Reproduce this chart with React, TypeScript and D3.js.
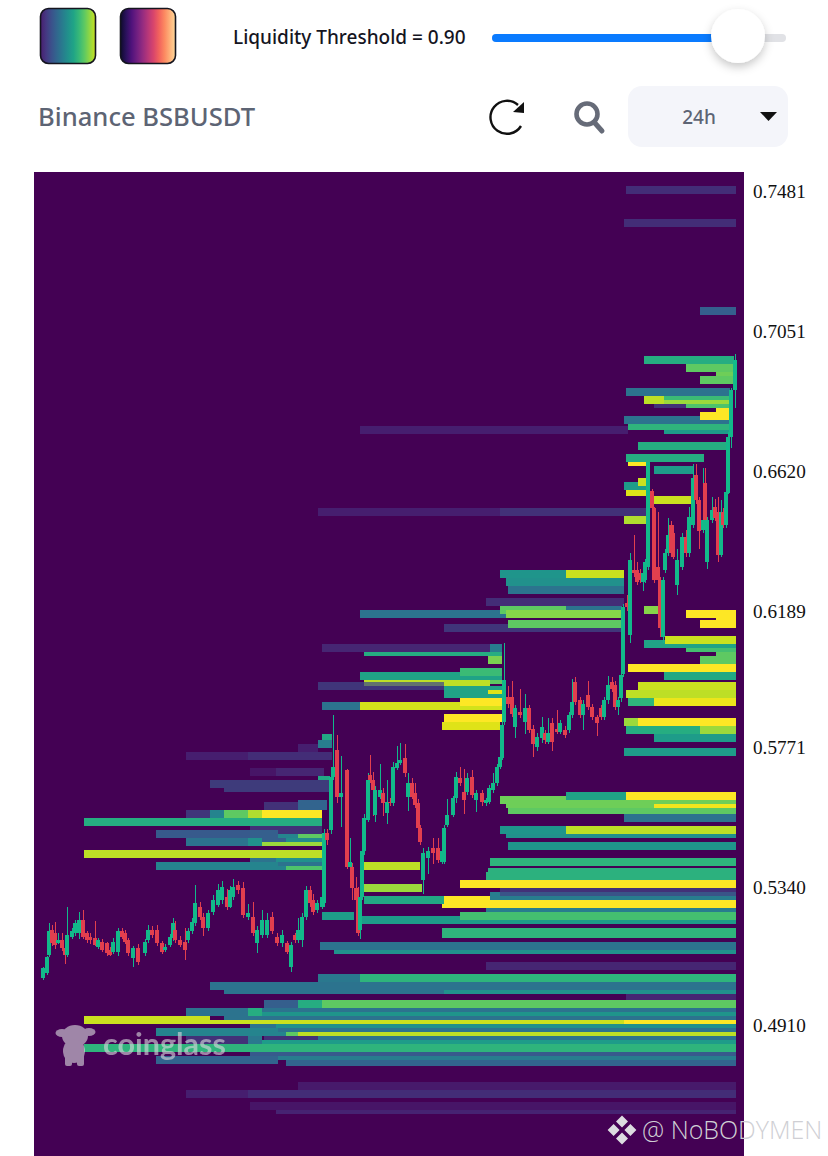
// App.tsx - liquidation heatmap, Binance BSBUSDT 24h
import * as d3 from 'd3';

// prices are in 1e-4 USDT, time in chart slots (about 2 min each)
const priceTicks = [7481, 7051, 6620, 6189, 5771, 5340, 4910, 4481];

type Bar = [number, number, number, number, number]; // t0, t1, price top, price bottom, level 0-1

const barsTop: Bar[] = [
  [592, 702, 7496, 7471, 0.18], [590, 702, 7395, 7371, 0.18], [666, 702, 7124, 7100, 0.3],
  [610, 700, 6974, 6949, 0.62], [652, 700, 6949, 6925, 0.75], [682, 700, 6925, 6912, 0.78], [666, 700, 6912, 6888, 0.75],
  [592, 696, 6875, 6851, 0.38], [610, 630, 6851, 6826, 0.9], [630, 696, 6851, 6838, 0.68], [630, 696, 6838, 6826, 0.85],
  [620, 652, 6826, 6814, 0.2], [652, 696, 6826, 6814, 0.72], [682, 696, 6814, 6802, 1],
  [590, 666, 6789, 6765, 0.38], [666, 696, 6777, 6765, 0.38], [666, 696, 6802, 6777, 1],
  [326, 594, 6759, 6734, 0.12], [594, 696, 6765, 6746, 0.65], [630, 696, 6746, 6734, 0.55],
  [604, 694, 6709, 6685, 0.62], [592, 670, 6672, 6648, 0.62], [594, 614, 6648, 6636, 1], [620, 660, 6636, 6611, 0.55],
  [590, 614, 6586, 6562, 0.55], [604, 614, 6599, 6574, 0.92], [592, 612, 6562, 6543, 0.95], [620, 658, 6543, 6519, 0.92],
  [284, 466, 6506, 6482, 0.12], [466, 612, 6506, 6482, 0.2], [590, 612, 6482, 6457, 0.88],
];

const barsUpperMid: Bar[] = [
  [466, 532, 6316, 6291, 0.52], [532, 590, 6316, 6291, 0.92], [472, 590, 6291, 6266, 0.5], [474, 590, 6266, 6241, 0.38],
  [452, 590, 6229, 6205, 0.18], [610, 624, 6205, 6180, 0.82], [326, 472, 6192, 6168, 0.38], [466, 532, 6205, 6180, 0.75],
  [532, 588, 6205, 6192, 0.38], [472, 588, 6192, 6168, 0.82], [410, 588, 6149, 6125, 0.22], [474, 588, 6161, 6137, 0.75],
  [652, 702, 6192, 6168, 1], [682, 702, 6168, 6161, 1], [666, 702, 6161, 6137, 1],
  [610, 702, 6100, 6075, 0.58], [631, 702, 6112, 6088, 0.92], [652, 702, 6075, 6063, 0.7], [682, 702, 6063, 6051, 0.75],
  [666, 702, 6051, 6026, 0.75], [594, 702, 6026, 6002, 1], [630, 702, 6002, 5977, 0.6],
  [604, 702, 5971, 5946, 0.92], [592, 702, 5946, 5922, 0.9], [594, 620, 5922, 5897, 0.65], [620, 702, 5922, 5897, 0.97],
  [590, 604, 5860, 5836, 0.85], [604, 702, 5860, 5836, 1], [592, 666, 5836, 5811, 0.62], [666, 702, 5836, 5811, 0.85],
  [620, 702, 5811, 5786, 0.55], [590, 702, 5768, 5743, 0.55],
];

const barsCentre: Bar[] = [
  [288, 456, 6088, 6064, 0.15], [456, 468, 6088, 6064, 0.42], [330, 468, 6064, 6051, 0.62], [454, 468, 6051, 6027, 0.8],
  [326, 468, 6002, 5978, 0.58], [426, 468, 6014, 5990, 0.68], [330, 456, 5978, 5959, 0.9], [456, 468, 5978, 5965, 0.75],
  [284, 410, 5971, 5947, 0.22], [410, 468, 5959, 5922, 0.58], [454, 468, 5947, 5934, 0.95],
  [288, 326, 5910, 5885, 0.38], [326, 468, 5910, 5885, 0.93], [426, 468, 5922, 5898, 1],
  [410, 468, 5873, 5848, 1], [408, 466, 5848, 5824, 0.95],
  [288, 298, 5811, 5787, 0.6], [284, 298, 5793, 5768, 0.42], [264, 284, 5781, 5756, 0.12],
  [152, 214, 5756, 5731, 0.12], [214, 298, 5756, 5731, 0.18],
  [216, 242, 5707, 5682, 0.08], [242, 290, 5707, 5682, 0.15], [284, 296, 5682, 5670, 0.6],
  [176, 296, 5670, 5645, 0.25], [190, 296, 5645, 5633, 0.25],
  [230, 264, 5602, 5578, 0.2], [264, 293, 5608, 5578, 0.32],
  [152, 176, 5578, 5553, 0.22], [176, 190, 5578, 5553, 0.45], [190, 214, 5578, 5553, 0.75], [214, 228, 5578, 5553, 0.88], [228, 288, 5578, 5553, 1],
  [50, 288, 5553, 5529, 0.62], [216, 288, 5529, 5504, 0.2],
  [122, 216, 5516, 5492, 0.28], [216, 244, 5516, 5492, 0.3], [244, 264, 5504, 5492, 0.45], [264, 288, 5504, 5492, 0.75],
  [152, 214, 5492, 5467, 0.38], [214, 228, 5492, 5467, 0.5], [228, 252, 5492, 5480, 0.3], [252, 288, 5492, 5480, 0.48], [228, 288, 5480, 5467, 0.85],
  [50, 288, 5455, 5430, 0.9], [216, 242, 5430, 5418, 0.38], [242, 288, 5430, 5418, 0.5],
  [122, 252, 5418, 5393, 0.45], [244, 288, 5418, 5405, 0.38], [252, 288, 5405, 5393, 0.72],
  [330, 386, 5418, 5393, 0.9], [329, 388, 5350, 5326, 0.85], [330, 410, 5313, 5289, 0.6],
  [288, 320, 5264, 5240, 0.55],
];

const barsLowerMid: Bar[] = [
  [532, 592, 5633, 5609, 0.58], [592, 702, 5633, 5609, 1], [466, 532, 5621, 5596, 0.78], [532, 702, 5609, 5596, 0.78],
  [472, 620, 5596, 5584, 0.78], [620, 702, 5596, 5584, 0.98], [474, 702, 5584, 5565, 0.75], [590, 702, 5565, 5541, 0.38],
  [466, 532, 5529, 5504, 0.52], [532, 702, 5529, 5504, 0.9], [472, 702, 5504, 5492, 0.5], [474, 702, 5479, 5455, 0.52],
  [456, 702, 5430, 5406, 0.65], [454, 702, 5399, 5387, 0.64], [452, 702, 5387, 5362, 0.64], [426, 702, 5362, 5338, 1],
  [456, 702, 5325, 5301, 0.42], [466, 702, 5338, 5313, 0.2], [410, 456, 5313, 5301, 1], [408, 702, 5301, 5276, 1],
  [452, 702, 5276, 5264, 0.42], [326, 702, 5252, 5227, 0.55], [426, 702, 5264, 5240, 0.7],
  [408, 702, 5215, 5184, 0.65], [286, 702, 5172, 5147, 0.38], [300, 702, 5147, 5135, 0.5],
];

const barsBottom: Bar[] = [
  [452, 702, 5110, 5085, 0.15], [284, 326, 5073, 5048, 0.4], [326, 702, 5073, 5048, 0.65],
  [176, 702, 5048, 5024, 0.38], [190, 410, 5024, 5011, 0.38], [410, 702, 5024, 5011, 0.5], [592, 702, 5011, 4987, 0.15],
  [230, 264, 4993, 4968, 0.3], [264, 288, 4993, 4968, 0.62], [288, 702, 4993, 4968, 0.75],
  [152, 214, 4968, 4944, 0.38], [214, 228, 4968, 4944, 0.62], [228, 702, 4968, 4956, 0.38], [228, 702, 4956, 4944, 0.52],
  [190, 702, 4944, 4931, 0.38], [50, 176, 4944, 4919, 0.92], [176, 590, 4931, 4919, 0.92], [590, 702, 4931, 4919, 1],
  [216, 242, 4919, 4907, 0.38], [242, 702, 4919, 4907, 0.5], [122, 252, 4907, 4882, 0.45], [244, 702, 4907, 4895, 0.38],
  [252, 264, 4895, 4882, 0.75], [264, 702, 4895, 4882, 0.9],
  [152, 214, 4882, 4858, 0.2], [214, 228, 4882, 4858, 0.4], [230, 284, 4882, 4870, 0.2], [284, 702, 4882, 4870, 0.38],
  [228, 702, 4870, 4858, 0.55], [50, 702, 4858, 4833, 0.65], [216, 702, 4833, 4821, 0.28],
  [122, 244, 4821, 4796, 0.32], [244, 702, 4821, 4808, 0.42], [252, 702, 4808, 4790, 0.32],
  [264, 702, 4741, 4716, 0.1], [152, 214, 4716, 4692, 0.12], [214, 702, 4716, 4692, 0.18],
  [216, 702, 4679, 4655, 0.08], [242, 702, 4655, 4642, 0.14],
];

// t, open, close, high, low
const candles: [number, number, number, number, number][] = [
  [9,5060,5091,5095,5055],[13,5075,5127,5130,5070],[15,5132,5204,5230,5125],[18,5209,5168,5225,5160],[21,5198,5163,5232,5150],
  [24,5168,5178,5200,5165],[28,5178,5152,5200,5145],[31,5152,5132,5170,5105],[33,5132,5193,5280,5125],[38,5188,5204,5215,5180],
  [41,5198,5229,5240,5190],[45,5198,5239,5265,5180],[49,5239,5188,5270,5180],[53,5198,5178,5205,5170],[56,5188,5178,5200,5165],
  [61,5183,5163,5235,5158],[64,5157,5178,5185,5150],[68,5173,5147,5180,5140],[73,5168,5137,5172,5130],[76,5147,5132,5155,5128],
  [79,5142,5173,5185,5135],[84,5142,5204,5215,5130],[88,5204,5188,5215,5180],[91,5198,5173,5210,5165],[94,5178,5137,5185,5130],
  [99,5122,5152,5160,5095],[104,5152,5111,5165,5100],[111,5137,5173,5180,5130],[114,5178,5209,5225,5170],[118,5209,5193,5222,5185],
  [123,5209,5168,5225,5160],[128,5168,5142,5175,5135],[131,5147,5157,5165,5140],[136,5163,5188,5195,5155],[139,5183,5229,5245,5175],
  [141,5209,5178,5235,5170],[146,5178,5163,5190,5155],[151,5173,5147,5215,5117],[154,5178,5204,5215,5170],[158,5204,5234,5245,5195],
  [161,5229,5291,5347,5220],[166,5280,5250,5295,5240],[169,5250,5214,5260,5190],[174,5214,5260,5270,5205],[179,5265,5301,5315,5255],
  [184,5286,5332,5350,5280],[188,5301,5342,5360,5290],[193,5311,5280,5335,5270],[196,5280,5332,5345,5275],[199,5311,5342,5365,5300],
  [204,5347,5332,5358,5320],[209,5337,5255,5355,5245],[214,5250,5260,5290,5240],[219,5250,5198,5295,5190],[223,5168,5209,5220,5137],
  [228,5193,5239,5270,5185],[233,5193,5239,5260,5185],[238,5250,5204,5265,5195],[243,5188,5168,5200,5160],[248,5168,5193,5210,5155],
  [253,5168,5142,5175,5135],[257,5096,5163,5173,5080],[261,5193,5178,5200,5170],[264,5178,5209,5245,5170],[268,5178,5250,5260,5155],
  [272,5250,5332,5345,5240],[276,5332,5291,5345,5280],[279,5301,5265,5320,5255],[283,5270,5291,5300,5262],[288,5280,5311,5320,5272],
  [290,5291,5506,5520,5280],[293,5506,5485,5520,5470],[297,5516,5680,5695,5505],[299,5680,5711,5870,5670],[303,5762,5619,5808,5600],
  [307,5619,5629,5745,5525],[313,5701,5403,5705,5395],[316,5403,5419,5490,5390],[318,5403,5337,5415,5300],[322,5337,5301,5370,5285],
  [324,5301,5198,5340,5190],[326,5208,5311,5320,5180],[328,5311,5450,5465,5300],[330,5450,5552,5565,5440],[334,5547,5670,5690,5540],
  [336,5685,5670,5748,5660],[339,5670,5639,5695,5560],[341,5562,5639,5650,5540],[346,5619,5639,5720,5610],[349,5629,5598,5645,5560],
  [353,5567,5603,5670,5535],[356,5603,5598,5615,5590],[359,5598,5711,5725,5590],[363,5706,5721,5775,5700],[366,5721,5731,5785,5715],
  [371,5736,5690,5780,5680],[374,5619,5660,5690,5575],[378,5660,5619,5675,5610],[381,5629,5593,5660,5585],[384,5598,5521,5610,5510],
  [386,5521,5480,5530,5470],[389,5362,5445,5460,5320],[394,5429,5450,5465,5380],[399,5460,5445,5490,5410],[404,5460,5424,5490,5415],
  [408,5419,5450,5460,5410],[410,5419,5521,5530,5410],[413,5532,5562,5610,5525],[419,5562,5614,5620,5555],[422,5614,5680,5695,5600],
  [426,5675,5660,5710,5650],[430,5634,5609,5705,5565],[433,5634,5675,5690,5625],[438,5680,5624,5700,5615],[442,5609,5629,5640,5570],
  [448,5629,5603,5640,5590],[452,5598,5609,5615,5590],[455,5603,5644,5655,5595],[459,5639,5660,5690,5630],[463,5660,5711,5720,5650],
  [466,5711,5742,5750,5705],[468,5737,5839,5850,5730],[470,5849,5977,6090,5840],[474,5926,5905,5960,5890],[478,5926,5874,5975,5865],
  [481,5833,5890,5900,5800],[486,5880,5870,5950,5860],[491,5849,5890,5935,5810],[495,5890,5823,5900,5815],[499,5828,5782,5840,5740],
  [503,5772,5803,5815,5760],[508,5798,5833,5865,5785],[511,5813,5792,5825,5780],[514,5787,5813,5860,5780],[518,5844,5787,5860,5760],
  [523,5828,5818,5885,5810],[526,5818,5844,5855,5810],[531,5823,5808,5835,5800],[535,5823,5869,5880,5815],[538,5869,5910,5980,5860],
  [541,5972,5910,5985,5900],[546,5915,5869,5925,5860],[549,5869,5905,5915,5825],[554,5931,5895,5975,5885],[558,5895,5864,5905,5855],
  [563,5864,5844,5870,5805],[567,5890,5864,5900,5855],[570,5864,5915,5925,5855],[574,5915,5962,5990,5905],[578,5972,5951,5985,5940],
  [581,5962,5895,5975,5885],[584,5895,5915,5925,5870],[587,5921,5992,6000,5910],[589,5997,6202,6210,5985],[593,6213,6202,6240,6190],
  [596,6115,6346,6367,6090],[600,6315,6305,6423,6295],[603,6315,6279,6340,6270],[606,6305,6285,6320,6275],[609,6279,6305,6340,6250],
  [611,6285,6341,6350,6275],[614,6326,6649,6649,6315],[618,6557,6505,6565,6495],[620,6505,6285,6510,6275],[624,6326,6285,6495,6275],
  [626,6284,6136,6295,6110],[629,6110,6284,6295,6090],[631,6316,6367,6380,6305],[634,6367,6423,6475,6360],[637,6454,6367,6465,6355],
  [639,6428,6357,6455,6350],[643,6269,6346,6380,6240],[648,6326,6418,6430,6315],[652,6418,6367,6440,6355],[655,6367,6480,6510,6355],
  [659,6454,6598,6640,6445],[662,6608,6531,6640,6520],[665,6531,6434,6540,6380],[669,6439,6470,6630,6430],[671,6582,6470,6630,6460],
  [673,6341,6470,6480,6320],[678,6470,6500,6540,6460],[681,6510,6475,6535,6465],[684,6495,6362,6540,6340],[687,6362,6495,6530,6355],
  [689,6495,6454,6505,6445],[692,6454,6556,6570,6445],[694,6551,6726,6740,6550],[697,6726,6869,6875,6690],[701,6869,6961,6980,6815],
];

const W = 828;
const H = 1156;
const chartLeft = 34;
const chartRight = 744;
const chartTop = 172;

const x = d3.scaleLinear().domain([0, 710]).range([chartLeft, chartRight]);
const y = d3.scaleLinear().domain([7481, 4481]).range([191, 1166.6]);
// axis labels sit slightly off the heatmap grid
const tickY = d3.scaleLinear().domain([7481, 5340, 4481]).range([191, 887, 1163]);

const allBars = [...barsTop, ...barsUpperMid, ...barsLowerMid, ...barsCentre, ...barsBottom];
const greenUp = '#12b98a';
const redDown = '#e23f4e';

export default function App() {
  const swatchStops = d3.range(0, 1.01, 0.1);
  return (
    <svg width={W} height={H} viewBox={`0 0 ${W} ${H}`}
      style={{ position: 'absolute', left: 0, top: 0, background: '#fff' }}>
      <defs>
        <linearGradient id="swatchA">
          {swatchStops.map(s => <stop key={s} offset={s} stopColor={d3.interpolateViridis(0.08 + s * 0.84)} />)}
        </linearGradient>
        <linearGradient id="swatchB">
          {swatchStops.map(s => <stop key={s} offset={s} stopColor={d3.interpolateMagma(0.08 + s * 0.84)} />)}
        </linearGradient>
        <filter id="thumbShadow" x="-50%" y="-50%" width="200%" height="200%">
          <feDropShadow dx="0" dy="4" stdDeviation="5" floodColor="#000" floodOpacity="0.22" />
        </filter>
      </defs>

      {/* header controls */}
      <rect x={40.5} y={8.5} width={55} height={55} rx={8} fill="url(#swatchA)" stroke="#15151f" strokeWidth={1.6} />
      <rect x={120.5} y={8.5} width={55} height={55} rx={8} fill="url(#swatchB)" stroke="#15151f" strokeWidth={1.6} />
      <text x={233} y={44} fontFamily="'Noto Sans'" fontWeight={500} fontSize={19} fill="#15151f">Liquidity Threshold = 0.90</text>
      <rect x={492} y={34} width={294} height={8} rx={4} fill="#e1e2e6" />
      <rect x={492} y={34} width={230} height={8} rx={4} fill="#0a7bff" />
      <circle cx={738} cy={36} r={27} fill="#fff" filter="url(#thumbShadow)" />

      <text x={38} y={126} fontFamily="'Noto Sans'" fontWeight={500} fontSize={25.6} fill="#5d6474">Binance BSBUSDT</text>
      <path d="M 521 126 A 16.5 16.5 0 1 1 518 105" fill="none" stroke="#111" strokeWidth={2.4} />
      <path d="M 524 102 L 524 113 L 513 112 Z" fill="#111" />
      <circle cx={587} cy={114} r={10.5} fill="none" stroke="#666b78" strokeWidth={4.6} />
      <path d="M 594 122 L 602 131" stroke="#666b78" strokeWidth={5} strokeLinecap="round" />
      <rect x={628} y={86} width={160} height={61} rx={14} fill="#f4f5fa" />
      <text x={699} y={124} textAnchor="middle" fontFamily="'Noto Sans'" fontWeight={500} fontSize={19} fill="#5d6474">24h</text>
      <path d="M 760 112 L 777 112 L 768.5 121 Z" fill="#111" />

      {/* heatmap */}
      <rect x={chartLeft} y={chartTop} width={chartRight - chartLeft} height={H - chartTop} fill={d3.interpolateViridis(0)} />
      <g shapeRendering="crispEdges">
        {allBars.map(([t0, t1, top, bottom, level], i) => (
          <rect key={i} x={x(t0)} y={y(top)} width={x(t1) - x(t0)} height={y(bottom) - y(top)}
            fill={d3.interpolateViridis(level)} fillOpacity={level < 0.26 ? 0.72 : 1} />
        ))}
      </g>

      {/* watermark */}
      <g fill="#d8d8dc" opacity={0.62}>
        <ellipse cx={75} cy={1036} rx={13} ry={11} />
        <ellipse cx={62} cy={1033} rx={6.5} ry={4} />
        <ellipse cx={89} cy={1032} rx={6.5} ry={4} />
        <ellipse cx={74} cy={1051} rx={11} ry={12} />
        <rect x={65} y={1054} width={7} height={12} rx={2} />
        <rect x={77} y={1054} width={7} height={12} rx={2} />
        <text x={103} y={1055} fontFamily="Lato" fontWeight={700} fontSize={30.5}>coinglass</text>
      </g>

      {/* candles */}
      <g shapeRendering="crispEdges">
        {candles.map(([t, open, close, high, low], i) => {
          const color = close >= open ? greenUp : redDown;
          const top = y(Math.max(open, close));
          const bodyH = Math.abs(y(open) - y(close));
          return (
            <g key={i}>
              <line x1={x(t)} x2={x(t)} y1={y(high)} y2={y(low)} stroke={color} strokeWidth={1} />
              <rect x={x(t) - 1.75} y={top} width={3.5} height={Math.max(bodyH, 1)} fill={color} />
            </g>
          );
        })}
      </g>

      {/* price axis */}
      {priceTicks.map(p => (
        <text key={p} x={753} y={tickY(p)} dy="0.35em" fontFamily="'Liberation Serif'" fontSize={19.2} fill="#111">
          {(p / 10000).toFixed(4)}
        </text>
      ))}

      {/* repost tag */}
      <g fill="#dcdce0" transform="translate(622 1130) scale(1.2)">
        <path d="M 0 -12 L 5 -7 L 0 -2 L -5 -7 Z M 0 2 L 5 7 L 0 12 L -5 7 Z M -7 -5 L -2 0 L -7 5 L -12 0 Z M 7 -5 L 12 0 L 7 5 L 2 0 Z" />
      </g>
      <text x={642} y={1139} fontFamily="'Open Sans'" fontWeight={300} fontSize={25} fill="#cfcfd4">@ NoBODYMEN</text>
    </svg>
  );
}
